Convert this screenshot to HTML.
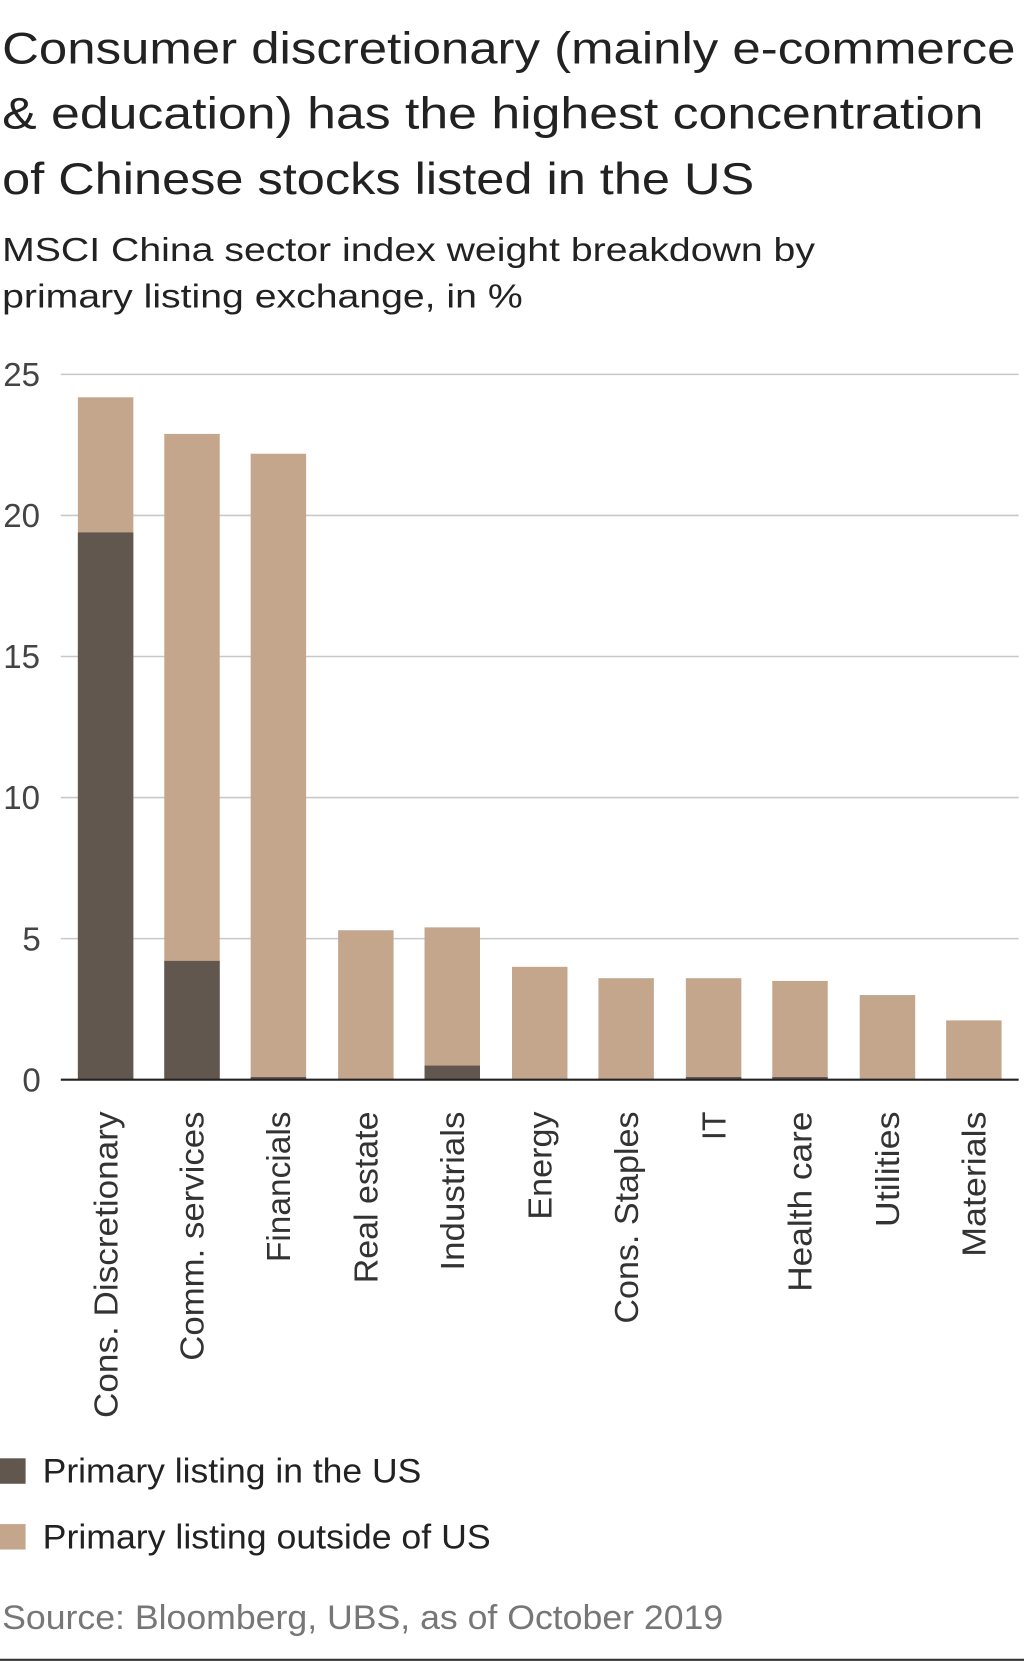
<!DOCTYPE html>
<html><head><style>html,body{margin:0;padding:0;background:#fff;}svg{display:block}</style></head>
<body>
<svg width="1024" height="1663" viewBox="0 0 960 1568" preserveAspectRatio="none" xmlns="http://www.w3.org/2000/svg" font-family="Liberation Sans, sans-serif">
<g fill="#222" font-size="42">
<text x="2" y="60" textLength="950" lengthAdjust="spacingAndGlyphs">Consumer discretionary (mainly e-commerce</text>
<text x="2" y="121" textLength="920" lengthAdjust="spacingAndGlyphs">&amp; education) has the highest concentration</text>
<text x="2" y="183" textLength="705" lengthAdjust="spacingAndGlyphs">of Chinese stocks listed in the US</text>
</g>
<g fill="#222" font-size="31">
<text x="2" y="246" textLength="762" lengthAdjust="spacingAndGlyphs">MSCI China sector index weight breakdown by</text>
<text x="2" y="290" textLength="488" lengthAdjust="spacingAndGlyphs">primary listing exchange, in %</text>
</g>
<g stroke="#c8c8c8" stroke-width="1.5">
<line x1="57" x2="955" y1="353" y2="353"/><line x1="57" x2="955" y1="486" y2="486"/>
<line x1="57" x2="955" y1="619" y2="619"/><line x1="57" x2="955" y1="752" y2="752"/>
<line x1="57" x2="955" y1="885" y2="885"/>
</g>
<g fill="#444" font-size="31">
<text x="3" y="364">25</text><text x="3" y="497">20</text><text x="3" y="630">15</text>
<text x="3" y="763">10</text><text x="21" y="896">5</text><text x="21" y="1029">0</text>
</g>
<g fill="#c4a68c">
<rect x="73" y="374.6" width="52" height="643.4"/>
<rect x="154" y="409.1" width="52" height="608.9"/>
<rect x="235" y="427.8" width="52" height="590.2"/>
<rect x="317" y="877.1" width="52" height="140.9"/>
<rect x="398" y="874.4" width="52" height="143.6"/>
<rect x="480" y="911.6" width="52" height="106.4"/>
<rect x="561" y="922.3" width="52" height="95.7"/>
<rect x="643" y="922.3" width="52" height="95.7"/>
<rect x="724" y="924.9" width="52" height="93.1"/>
<rect x="806" y="938.2" width="52" height="79.8"/>
<rect x="887" y="962.1" width="52" height="55.9"/>
</g>
<g fill="#62574f">
<rect x="73" y="502" width="52" height="516"/>
<rect x="154" y="906" width="52" height="112"/>
<rect x="235" y="1015.5" width="52" height="2.5"/>
<rect x="398" y="1004.7" width="52" height="13.3"/>
<rect x="643" y="1015.5" width="52" height="2.5"/>
<rect x="724" y="1015.5" width="52" height="2.5"/>
</g>
<line x1="57" x2="955" y1="1018" y2="1018" stroke="#222" stroke-width="2"/>
<g fill="#333" font-size="31" text-anchor="end" lengthAdjust="spacingAndGlyphs">
<text transform="translate(110,1048) rotate(-90)" textLength="289" lengthAdjust="spacingAndGlyphs">Cons. Discretionary</text>
<text transform="translate(191,1048) rotate(-90)" textLength="235" lengthAdjust="spacingAndGlyphs">Comm. services</text>
<text transform="translate(272,1048) rotate(-90)" textLength="142" lengthAdjust="spacingAndGlyphs">Financials</text>
<text transform="translate(354,1048) rotate(-90)" textLength="162" lengthAdjust="spacingAndGlyphs">Real estate</text>
<text transform="translate(435,1048) rotate(-90)" textLength="150" lengthAdjust="spacingAndGlyphs">Industrials</text>
<text transform="translate(517,1048) rotate(-90)" textLength="102" lengthAdjust="spacingAndGlyphs">Energy</text>
<text transform="translate(598,1048) rotate(-90)" textLength="200" lengthAdjust="spacingAndGlyphs">Cons. Staples</text>
<text transform="translate(680,1048) rotate(-90)" textLength="27" lengthAdjust="spacingAndGlyphs">IT</text>
<text transform="translate(761,1048) rotate(-90)" textLength="170" lengthAdjust="spacingAndGlyphs">Health care</text>
<text transform="translate(843,1048) rotate(-90)" textLength="109" lengthAdjust="spacingAndGlyphs">Utilities</text>
<text transform="translate(924,1048) rotate(-90)" textLength="137" lengthAdjust="spacingAndGlyphs">Materials</text>
</g>
<rect x="0" y="1375" width="24" height="24" fill="#62574f"/>
<rect x="0" y="1437" width="24" height="24" fill="#c4a68c"/>
<g fill="#222" font-size="32">
<text x="40" y="1398" textLength="355" lengthAdjust="spacingAndGlyphs">Primary listing in the US</text>
<text x="40" y="1460" textLength="420" lengthAdjust="spacingAndGlyphs">Primary listing outside of US</text>
</g>
<text x="2" y="1536" fill="#777" font-size="32" textLength="676" lengthAdjust="spacingAndGlyphs">Source: Bloomberg, UBS, as of October 2019</text>
<line x1="0" x2="960" y1="1565" y2="1565" stroke="#333" stroke-width="2"/>
</svg>
</body></html>
